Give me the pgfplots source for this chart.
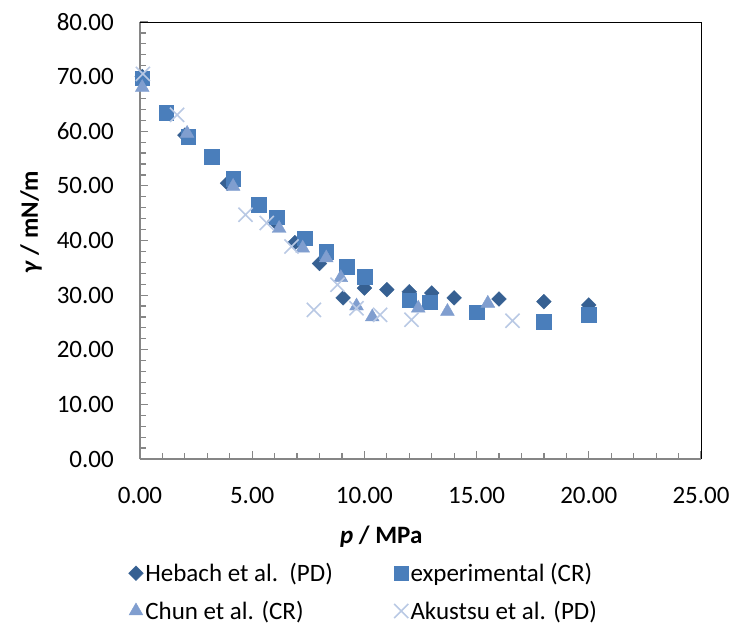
\documentclass[border=0pt]{standalone}
\usepackage{fontspec}
\setmainfont{Carlito}
\usepackage{pgfplots}
\pgfplotsset{compat=1.18}

\definecolor{hebach}{RGB}{54,96,146}
\definecolor{expcol}{RGB}{74,126,187}
\definecolor{chun}{RGB}{128,158,207}
\definecolor{aku}{RGB}{185,201,228}
\definecolor{axgray}{RGB}{134,134,134}

\begin{document}
\begin{tikzpicture}
\path[use as bounding box] (-140pt,-169pt) rectangle (595pt,459pt);
\begin{axis}[
  at={(0,0)}, anchor=south west,
  scale only axis, width=561pt, height=437pt,
  xmin=0, xmax=25, ymin=0, ymax=80,
  xtick={0,5,...,25}, ytick={0,10,...,80},
  minor x tick num=4, minor y tick num=4,
  axis x line*=bottom, axis y line*=left,
  axis line style={-, draw=axgray, line width=1.8pt},
  tick align=inside,
  major tick length=8pt, minor tick length=6pt,
  every tick/.style={axgray, line width=1.2pt},
  font=\fontsize{25}{30}\selectfont,
  /pgf/number format/.cd, fixed, fixed zerofill, precision=2, assume math mode=true,
  /pgfplots/.cd,
  xticklabel style={inner sep=0pt, anchor=north, yshift=-28pt},
  yticklabel style={inner sep=0pt, anchor=east},
  yticklabel={\pgfmathprintnumber{\tick}\kern26pt},
  xlabel={\textbf{\textit{p} / MPa}},
  ylabel={\textbf{\textit{γ} / mN/m}},
  xlabel style={at={(axis description cs:0.43,-0.178)}, anchor=center},
  ylabel style={at={(axis description cs:-0.194,0.542)}, anchor=center},
  clip=false,
  legend columns=2,
  legend cell align=left,
  legend image code/.code={\draw[#1] plot coordinates {(0pt,0pt)};},
  legend style={draw=none, fill=none, at={(axis description cs:-0.026,-0.229)}, anchor=north west,
    /tikz/every even column/.append style={column sep=59pt}, row sep=14pt,
    font=\fontsize{25}{30}\selectfont},
]
\addplot[only marks, mark=square*, mark size=5.2pt, mark options={hebach, fill=hebach, rotate=45}]
  coordinates {(0.1,70.0)(2.0,59.3)(3.9,50.5)(6.0,43.5)(6.9,39.6)(8.0,35.8)(9.05,29.5)(10.0,31.3)(11.0,31.0)(12.0,30.6)(13.0,30.4)(14.0,29.5)(16.0,29.3)(18.0,28.8)(20.0,28.2)};
\addlegendentry{Hebach et al.~~(PD)}
\addplot[only marks, mark=square*, mark size=7.3pt, mark options={expcol, fill=expcol}]
  coordinates {(0.1,69.7)(1.16,63.4)(2.14,59.0)(3.2,55.3)(4.15,51.3)(5.3,46.5)(6.1,44.3)(7.35,40.4)(8.3,37.9)(9.2,35.2)(10.0,33.4)(12.0,29.1)(12.9,28.7)(15.0,26.9)(18.0,25.1)(20.0,26.4)};
\addlegendentry{experimental (CR)}
\addplot[only marks, mark=triangle*, mark size=8pt, mark options={chun, fill=chun}]
  coordinates {(0.1,68.0)(2.1,59.6)(4.15,49.9)(6.2,42.2)(7.25,38.6)(8.3,36.8)(8.95,33.2)(9.65,28.0)(10.35,26.0)(12.4,27.6)(13.7,27.0)(15.5,28.5)};
\addlegendentry{Chun et al. (CR)}
\addplot[only marks, mark=x, mark size=10pt, mark options={aku, line width=1.6pt}]
  coordinates {(0.13,70.5)(1.65,63.0)(4.7,44.7)(5.65,43.2)(6.75,38.9)(7.75,27.3)(8.8,31.9)(9.65,27.6)(10.7,26.4)(12.1,25.5)(16.6,25.3)};
\addlegendentry{Akustsu et al. (PD)}
\draw[black, line width=0.9pt] (rel axis cs:0,1) -- (rel axis cs:1,1) -- (rel axis cs:1,0);
\end{axis}
\end{tikzpicture}
\end{document}
